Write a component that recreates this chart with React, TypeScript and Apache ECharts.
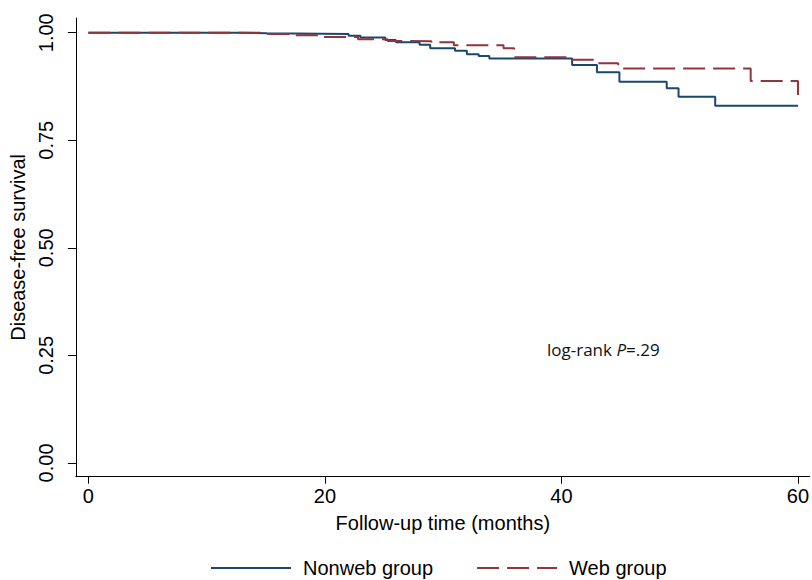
import React, { useEffect, useRef } from "react";
import * as echarts from "echarts";

// Kaplan-Meier steps: [months, survival]
const nonwebTimes = [0, 13, 15.1, 22, 23, 25.1, 26, 28, 28.9, 31, 32, 33, 33.9, 40.9, 43, 44.9, 48.9, 49.9, 53, 60];
const nonwebSurv = [1.0, 0.9985, 0.997, 0.993, 0.989, 0.983, 0.978, 0.972, 0.964, 0.958, 0.95, 0.946, 0.94, 0.925, 0.908, 0.886, 0.871, 0.851, 0.83, 0.83];

const webTimes = [0, 15, 17.1, 19.9, 22.8, 25.3, 26.3, 29, 30.9, 35.1, 36, 40.9, 43, 44.8, 56, 60];
const webSurv = [1.0, 0.997, 0.994, 0.99, 0.985, 0.981, 0.98, 0.978, 0.971, 0.964, 0.943, 0.937, 0.929, 0.917, 0.888, 0.855];

const xTicks = [0, 20, 40, 60];
const yTicks = [0, 0.25, 0.5, 0.75, 1.0];

const seriesNames = ["Nonweb group", "Web group"];
const FONT = "'Liberation Sans', Arial, sans-serif";

export default function App() {
  const ref = useRef<HTMLDivElement>(null);
  useEffect(() => {
    document.body.style.margin = "0";
    if (!ref.current) return;
    const chart = echarts.init(ref.current, undefined, { renderer: "svg" });
    const nonweb = nonwebTimes.map((t, i) => [t, nonwebSurv[i]]);
    const web = webTimes.map((t, i) => [t, webSurv[i]]);
    chart.setOption({
      animation: false,
      backgroundColor: "#ffffff",
      textStyle: { fontFamily: FONT },
      grid: { left: 69.3, right: 0, top: 18.1, bottom: 103.3 },
      xAxis: {
        type: "value",
        min: -1.06,
        max: 61,
        name: "Follow-up time (months)",
        nameLocation: "middle",
        nameGap: 36,
        nameTextStyle: { fontSize: 20, color: "#000", fontFamily: FONT },
        axisLine: { show: true, onZero: false, lineStyle: { color: "#000", width: 1 } },
        axisTick: { show: true, inside: false, length: 7, customValues: xTicks, lineStyle: { color: "#000" } },
        axisLabel: { customValues: xTicks, fontSize: 20, color: "#000", margin: 9, fontFamily: FONT },
        splitLine: { show: false },
      },
      yAxis: {
        type: "value",
        min: -0.032,
        max: 1.034,
        name: "Disease-free survival",
        nameLocation: "middle",
        nameGap: 43,
        nameRotate: 90,
        nameTextStyle: { fontSize: 20, color: "#000", fontFamily: FONT },
        axisLine: { show: true, onZero: false, lineStyle: { color: "#000", width: 1 } },
        axisTick: { show: true, inside: false, length: 8, customValues: yTicks, lineStyle: { color: "#000" } },
        axisLabel: {
          customValues: yTicks,
          rotate: 90,
          fontSize: 20,
          color: "#000",
          margin: 20,
          fontFamily: FONT,
          formatter: (v: number) => v.toFixed(2),
        },
        splitLine: { show: false },
      },
      legend: {
        left: 205,
        top: 553,
        itemWidth: 80,
        itemHeight: 20,
        itemGap: 43,
        itemStyle: { opacity: 0 },
        textStyle: { fontSize: 20, color: "#000", fontFamily: FONT, padding: [0, 0, 0, 7] },
        data: seriesNames,
      },
      series: [
        {
          name: seriesNames[0],
          type: "line",
          step: "end",
          symbol: "none",
          data: nonweb,
          lineStyle: { color: "#1a476f", width: 2 },
          itemStyle: { color: "#1a476f" },
          z: 2,
        },
        {
          name: seriesNames[1],
          type: "line",
          step: "end",
          symbol: "none",
          data: web,
          lineStyle: { color: "#90353b", width: 2, type: [22, 8] },
          itemStyle: { color: "#90353b" },
          z: 3,
        },
      ],
      graphic: [
        {
          type: "text",
          left: 547,
          top: 341,
          style: {
            text: "{a|log-rank }{b|P}{a|=.29}",
            rich: {
              a: { fontSize: 17, fontFamily: "'Open Sans', sans-serif", fill: "#111" },
              b: { fontSize: 17, fontFamily: "'Open Sans', sans-serif", fontStyle: "italic", fill: "#111" },
            },
          },
        },
      ],
    });
    return () => chart.dispose();
  }, []);
  return <div ref={ref} style={{ width: 812, height: 580 }} />;
}
